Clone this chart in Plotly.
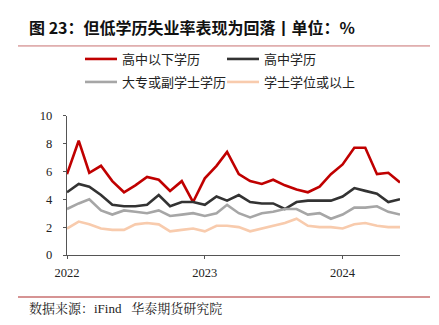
import plotly.graph_objects as go
import pandas as pd

months = pd.date_range("2022-01-01", periods=30, freq="MS").strftime("%Y-%m-%d").tolist()

below_hs = [5.8, 8.2, 5.9, 6.4, 5.3, 4.5, 5.0, 5.6, 5.4, 4.6, 5.3, 3.8,
            5.5, 6.4, 7.4, 5.8, 5.3, 5.1, 5.4, 5.0, 4.7, 4.5, 4.9, 5.8,
            6.5, 7.7, 7.7, 5.8, 5.9, 5.2]
high_school = [4.5, 5.1, 4.9, 4.3, 3.6, 3.5, 3.5, 3.6, 4.3, 3.5, 3.8, 3.8,
               3.6, 4.2, 3.9, 4.3, 3.8, 3.7, 3.7, 3.3, 3.8, 3.9, 3.9, 3.9,
               4.2, 4.8, 4.6, 4.4, 3.8, 4.0]
college = [3.3, 3.7, 4.0, 3.2, 2.9, 3.2, 3.1, 3.0, 3.2, 2.8, 2.9, 3.0,
           2.8, 3.0, 3.6, 3.0, 2.7, 3.0, 3.1, 3.3, 3.3, 2.9, 3.0, 2.6,
           2.9, 3.4, 3.4, 3.5, 3.1, 2.9]
bachelor = [1.9, 2.4, 2.2, 1.9, 1.8, 1.8, 2.2, 2.3, 2.2, 1.7, 1.8, 1.9,
            1.7, 2.1, 2.1, 2.0, 1.7, 1.9, 2.1, 2.3, 2.6, 2.1, 2.0, 2.0,
            1.9, 2.2, 2.3, 2.1, 2.0, 2.0]

names = ["高中以下学历", "高中学历", "大专或副学士学历", "学士学位或以上"]
colors = ["#C00000", "#333333", "#A6A6A6", "#F8CBAD"]
series = [below_hs, high_school, college, bachelor]
legends = ["legend", "legend", "legend2", "legend2"]

W, H = 439, 325
L, R, T, B = 67, 39, 109, 70

fig = go.Figure()
for n, c, s, lg in zip(names, colors, series, legends):
    fig.add_trace(go.Scatter(x=months, y=s, name=n, mode="lines",
                             line=dict(color=c, width=2.6), legend=lg))

cjk = "Noto Sans CJK SC"
serif = "Liberation Serif, Noto Serif CJK SC, Noto Sans CJK SC"
axis_col = "#555555"

legend_common = dict(orientation="h", xref="container", yref="container",
                     xanchor="left", yanchor="middle", x=80 / W,
                     entrywidth=95, entrywidthmode="pixels",
                     font=dict(family=cjk, size=13, color="#222222"),
                     bgcolor="rgba(0,0,0,0)", borderwidth=0, itemwidth=32)

fig.update_layout(
    width=W, height=H,
    margin=dict(l=L, r=R, t=T, b=B),
    paper_bgcolor="white", plot_bgcolor="white",
    showlegend=True,
    legend=dict(legend_common, y=1 - 59 / H),
    legend2=dict(legend_common, y=1 - 82 / H),
    xaxis=dict(type="date", range=["2022-01-01", "2024-06-01"],
               tickvals=["2022-01-01", "2023-01-01", "2024-01-01"],
               ticktext=["2022", "2023", "2024"],
               showgrid=False, zeroline=False,
               showline=True, linecolor=axis_col, linewidth=1.3,
               ticks="outside", ticklen=3, tickcolor=axis_col,
               ticklabelstandoff=3,
               tickfont=dict(family=serif, size=12.5, color="#222222")),
    yaxis=dict(range=[0, 10], dtick=2, showgrid=False, zeroline=False,
               showline=True, linecolor=axis_col, linewidth=1.3,
               ticks="outside", ticklen=3, tickcolor=axis_col,
               ticklabelstandoff=8,
               tickfont=dict(family=serif, size=12.5, color="#222222")),
    annotations=[
        dict(text="<b>图 23：但低学历失业率表现为回落丨单位：%</b>",
             xref="paper", yref="paper", x=(27 - L) / (W - L - R),
             y=1 + (T - 16) / (H - T - B), xanchor="left", yanchor="middle",
             showarrow=False, font=dict(family=cjk, size=16, color="#111111")),
        dict(text="数据来源：iFind   华泰期货研究院",
             xref="paper", yref="paper", x=(27 - L) / (W - L - R),
             y=-(311 - (H - B)) / (H - T - B), xanchor="left", yanchor="middle",
             showarrow=False, font=dict(family=serif, size=13, color="#222222")),
    ],
    shapes=[
        dict(type="line", xref="paper", yref="paper",
             x0=(18 - L) / (W - L - R), x1=(430 - L) / (W - L - R),
             y0=1 + (T - 36) / (H - T - B), y1=1 + (T - 36) / (H - T - B),
             line=dict(color="#C87070", width=1)),
        dict(type="line", xref="paper", yref="paper",
             x0=(18 - L) / (W - L - R), x1=(430 - L) / (W - L - R),
             y0=-(299 - (H - B)) / (H - T - B), y1=-(299 - (H - B)) / (H - T - B),
             line=dict(color="#C87070", width=1.5)),
    ],
)

fig.write_html("out.html")
